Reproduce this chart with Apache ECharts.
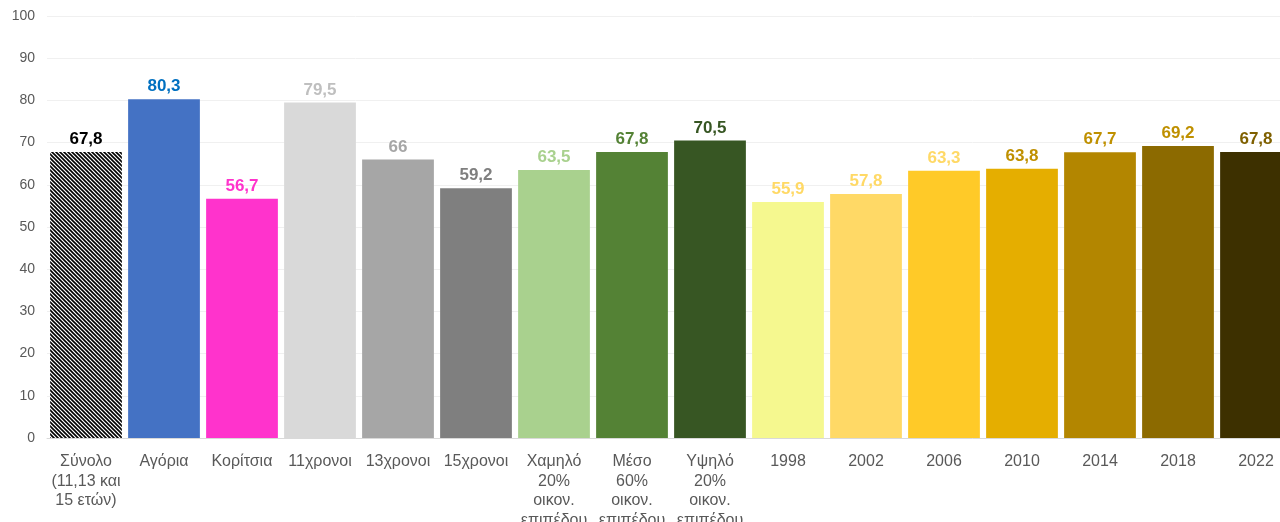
<!DOCTYPE html>
<html><head><meta charset="utf-8">
<script src="https://cdn.jsdelivr.net/npm/echarts@6/dist/echarts.min.js"></script>
<style>html,body{margin:0;padding:0;background:#fff;overflow:hidden}#c{width:1280px;height:522px}</style>
</head><body><div id="c"></div>
<script>
const categories = ['Σύνολο\n(11,13 και\n15 ετών)','Αγόρια','Κορίτσια','11χρονοι','13χρονοι','15χρονοι','Χαμηλό\n20%\nοικον.\nεπιπέδου','Μέσο\n60%\nοικον.\nεπιπέδου','Υψηλό\n20%\nοικον.\nεπιπέδου','1998','2002','2006','2010','2014','2018','2022'];
const values = [67.8, 80.3, 56.7, 79.5, 66, 59.2, 63.5, 67.8, 70.5, 55.9, 57.8, 63.3, 63.8, 67.7, 69.2, 67.8];
const barColors = ['pattern','#4472C4','#FF33CC','#D9D9D9','#A6A6A6','#7F7F7F','#A9D18E','#548235','#375623','#F5F88F','#FFD966','#FFCA28','#E5AE00','#B38600','#8C6A00','#3D3000'];
const labelColors = ['#000000','#0070C0','#FF33CC','#BFBFBF','#A6A6A6','#7F7F7F','#A9D18E','#548235','#375623','#FFD966','#FFD966','#FFD966','#BF9000','#BF9000','#BF9000','#7F6000'];
const yTicks = {min:0, max:100, interval:10};

function makePattern(){
  const c = document.createElement('canvas');
  c.width = 4; c.height = 4;
  const ctx = c.getContext('2d');
  ctx.fillStyle = '#fff'; ctx.fillRect(0,0,4,4);
  ctx.strokeStyle = '#000'; ctx.lineWidth = 1.6;
  ctx.beginPath();
  ctx.moveTo(-1,-1); ctx.lineTo(5,5);
  ctx.moveTo(-1,3); ctx.lineTo(1,5);
  ctx.moveTo(3,-1); ctx.lineTo(5,1);
  ctx.stroke();
  return {image:c, repeat:'repeat'};
}
const pat = makePattern();

const chart = echarts.init(document.getElementById('c'));
chart.setOption({
  animation:false,
  grid:{left:47, width:1248, top:16, height:422, containLabel:false, outerBoundsMode:'none'},
  xAxis:{type:'category', data:categories,
    axisLine:{lineStyle:{color:'#D9D9D9'}}, axisTick:{show:false},
    axisLabel:{color:'#595959', fontSize:16, fontFamily:'Liberation Sans, Arial', lineHeight:19.5, margin:14, interval:0}},
  yAxis:{type:'value', min:yTicks.min, max:yTicks.max, interval:yTicks.interval,
    axisLabel:{color:'#595959', fontSize:14, fontFamily:'Liberation Sans, Arial', margin:12},
    splitLine:{lineStyle:{color:'#F0F0F0'}}},
  series:[{type:'bar', barCategoryGap:'8%',
    data: values.map((v,i)=>({value:v,
      itemStyle:{color: barColors[i]==='pattern'? pat : barColors[i]},
      label:{color:labelColors[i]}})),
    label:{show:true, position:'top', distance:4, fontSize:17, fontWeight:'bold', fontFamily:'Liberation Sans, Arial',
      formatter: p => String(p.value).replace('.', ',')}
  }]
});
</script></body></html>
